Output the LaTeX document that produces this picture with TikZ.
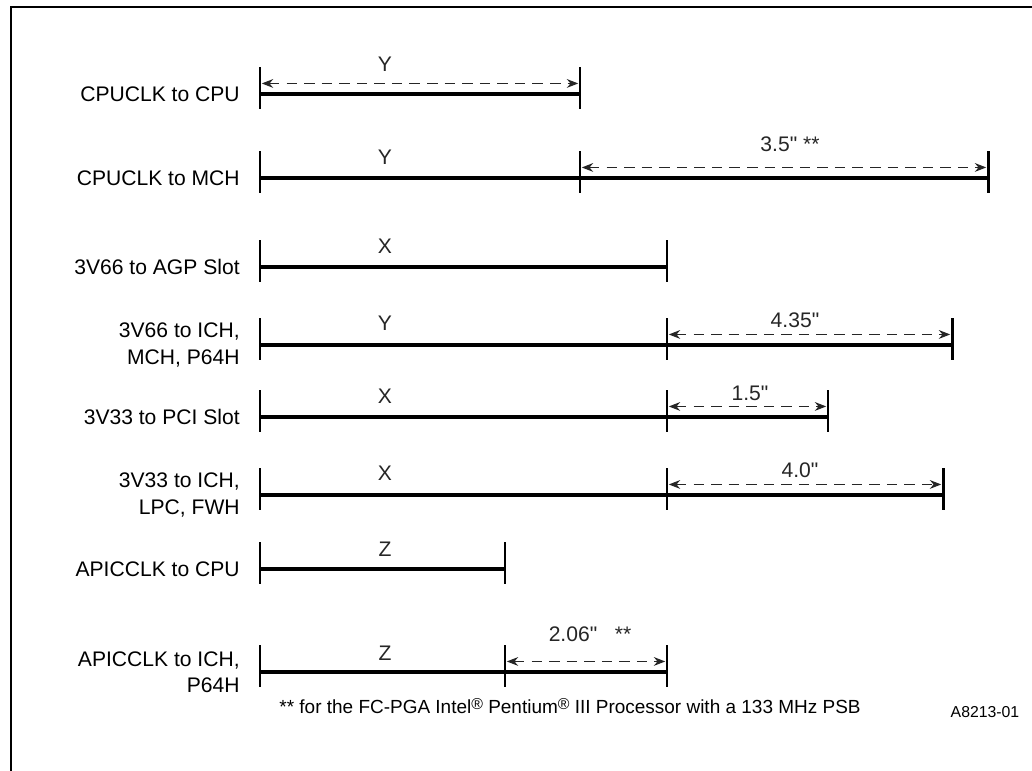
\documentclass[tikz,border=0pt]{standalone}
\usepackage{fontspec}
\setmainfont{Liberation Sans}[Ligatures=TeXOff]
\usetikzlibrary{arrows.meta, positioning, calc}
\newcommand{\regmark}{\raisebox{0.45ex}{\fontsize{9}{9}\selectfont\textregistered}}

\begin{document}
\begin{tikzpicture}[x=0.02cm, y=-0.02cm,
  font=\fontsize{12}{15}\selectfont,
  base/.style={line width=1.9pt},
  tick/.style={line width=1.7pt},
  dim/.style={black!85, line width=0.75pt, dash pattern=on 6pt off 4pt,
    {Stealth[length=6.5pt,width=5pt]}-{Stealth[length=6.5pt,width=5pt]}, shorten <=1pt, shorten >=1pt},
  rowlabel/.style={anchor=east, align=right, inner sep=0pt},
  seglabel/.style={inner sep=0pt, text=black!85},
]
\useasboundingbox (0,0) rectangle (1032,771);

% frame
\draw[line width=1.1pt] (11,771) -- (11,7) -- (1032,7);

% rows: id / y / end of first segment / end of second segment / label y / letter / name
\foreach \r/\y/\xb/\xc/\ly/\lt/\txt in {
  1/94/580/580/64/Y/{CPUCLK to CPU},
  2/178/580/988/157/Y/{CPUCLK to MCH},
  3/267/667/667/246/X/{3V66 to AGP Slot},
  4/345/667/952/323/Y/{3V66 to ICH,\\MCH, P64H},
  5/417/667/828/396/X/{3V33 to PCI Slot},
  6/495/667/943/473/X/{3V33 to ICH,\\LPC, FWH},
  7/569/505/505/549/Z/{APICCLK to CPU},
  8/672/505/667/653/Z/{APICCLK to ICH,\\P64H}} {
  \coordinate (a\r) at (260,\y);
  \coordinate (b\r) at (\xb,\y);
  \coordinate (c\r) at (\xc,\y);
  \node[rowlabel] (lab\r) at (240,\y) {\txt};
  \node[seglabel] (let\r) at (385,\ly) {\lt};
  \draw[base] (a\r) -- (c\r);
  \foreach \p in {a,b,c}
    \draw[tick] ([yshift=15.3pt]\p\r) -- ([yshift=-8.5pt]\p\r);
}

% dimension arrows
\draw[dim] ([yshift=6pt]a1) -- ([yshift=6pt]b1);
\draw[dim] ([yshift=6pt]b2) -- ([yshift=6pt]c2);
\draw[dim] ([yshift=6pt]b4) -- ([yshift=6pt]c4);
\draw[dim] ([yshift=6pt]b5) -- ([yshift=6pt]c5);
\draw[dim] ([yshift=6pt]b6) -- ([yshift=6pt]c6);
\draw[dim] ([yshift=6pt]b8) -- ([yshift=6pt]c8);

\node[seglabel] (len2) at (790,144) {3.5"\ **};
\node[seglabel] (len4) at (795,320) {4.35"};
\node[seglabel] (len5) at (750,393) {1.5"};
\node[seglabel] (len6) at (800,470) {4.0"};
\node[seglabel] (len8) at (590,634) {2.06"\ \ \ **};

% footnote and figure number
\node[inner sep=0pt, font=\fontsize{10.8}{13}\selectfont] (note) at (570,706)
  {** for the FC-PGA Intel\regmark\ Pentium\regmark\ III Processor with a 133 MHz PSB};
\node[inner sep=0pt, font=\fontsize{9}{11}\selectfont] (fig) at (985,712) {A8213-01};
\end{tikzpicture}
\end{document}
